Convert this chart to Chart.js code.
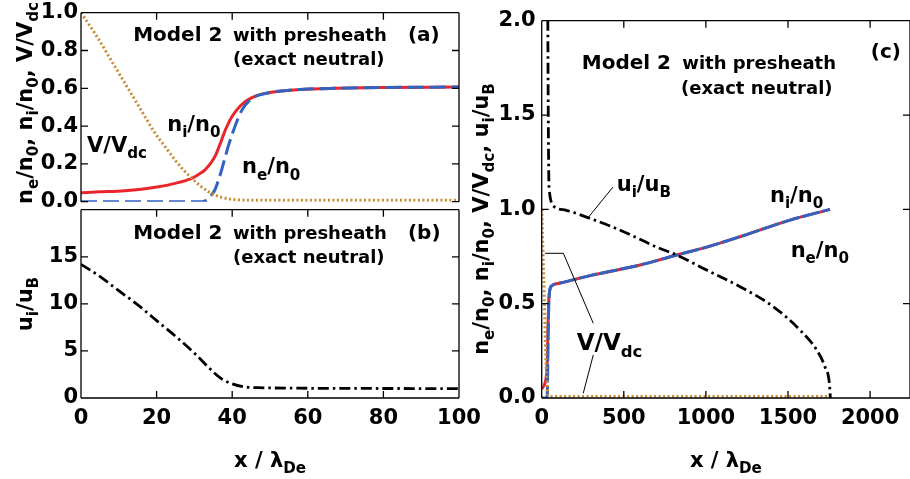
<!DOCTYPE html>
<html>
<head>
<meta charset="utf-8">
<script src="https://cdn.jsdelivr.net/npm/chart.js@4.4.1/dist/chart.umd.min.js"></script>
<style>
  html, body { margin: 0; padding: 0; background: #fff; }
  #wrap { position: relative; width: 910px; height: 479px; }
  #wrap canvas { position: absolute; left: 0; top: 0; }
</style>
</head>
<body>
<div id="wrap">
  <canvas id="panelA" width="910" height="479"></canvas>
  <canvas id="panelB" width="910" height="479"></canvas>
  <canvas id="panelC" width="910" height="479"></canvas>
</div>
<script>
// ---- panel (a) : densities and potential, x in 0..100
const aNiX = [0, 5, 11.6, 16, 20.5, 24.9, 29.3, 31, 32.8, 34, 35, 35.8, 36.5, 37.2, 38, 38.9, 39.8, 40.7, 41.6, 42.9, 44.3, 46, 47.8, 50, 53, 58, 67, 80, 100];
const aNi  = [0.048, 0.052, 0.058, 0.066, 0.079, 0.097, 0.124, 0.143, 0.168, 0.196, 0.225, 0.255, 0.29, 0.326, 0.37, 0.41, 0.445, 0.472, 0.495, 0.52, 0.54, 0.557, 0.569, 0.578, 0.586, 0.594, 0.600, 0.604, 0.607];
const aNeX = [0, 31.9, 33, 33.7, 34.5, 35.4, 36.3, 37.2, 38, 38.9, 39.8, 40.7, 41.6, 42.5, 43.4, 44.3, 46, 47.8, 50, 53, 58, 67, 80, 100];
const aNe  = [0, 0, 0.006, 0.018, 0.035, 0.062, 0.11, 0.168, 0.225, 0.29, 0.345, 0.397, 0.443, 0.482, 0.51, 0.53, 0.555, 0.568, 0.578, 0.586, 0.594, 0.600, 0.604, 0.607];
const aVX  = [0, 3.7, 9, 14.3, 17, 19.6, 22.3, 24.9, 27.1, 29.3, 31.5, 33.7, 35.5, 37.2, 40.7, 45, 60, 100];
const aV   = [1.0, 0.89, 0.714, 0.538, 0.447, 0.362, 0.29, 0.22, 0.168, 0.124, 0.085, 0.053, 0.035, 0.023, 0.011, 0.008, 0.008, 0.008];
const aXTicks = [0, 20, 40, 60, 80, 100];
const aYTicks = [0, 0.2, 0.4, 0.6, 0.8, 1.0];

// ---- panel (b) : ion velocity
const bUX = [0, 4.5, 9.8, 15.1, 20.4, 25.7, 30.1, 34.5, 37.1, 39.8, 43.3, 46.8, 55, 70, 100];
const bU  = [14.2, 13.05, 11.46, 9.86, 8.09, 6.32, 4.72, 2.95, 2.06, 1.53, 1.17, 1.10, 1.05, 1.02, 1.0];
const bXTicks = [0, 20, 40, 60, 80, 100];
const bYTicks = [0, 5, 10, 15, 20];

// ---- panel (c) : whole domain
const cNiX = [0, 20, 30, 35, 38, 42, 48, 60, 100, 300, 599, 822, 1005, 1208, 1512, 1756];
const cNi  = [0.048, 0.079, 0.13, 0.22, 0.37, 0.5, 0.565, 0.594, 0.607, 0.65, 0.705, 0.758, 0.80, 0.855, 0.943, 1.0];
const cNeX = [0, 32, 35, 38, 41, 44, 48, 60, 100, 300, 599, 822, 1005, 1208, 1512, 1756];
const cNe  = [0, 0, 0.05, 0.24, 0.42, 0.52, 0.565, 0.594, 0.607, 0.65, 0.705, 0.758, 0.80, 0.855, 0.943, 1.0];
const cVX  = [0, 5, 10, 15, 20, 25, 30, 35, 40, 60, 1756];
const cV   = [1.0, 0.86, 0.71, 0.56, 0.37, 0.22, 0.12, 0.045, 0.012, 0.008, 0.008];
const cUX  = [0, 9.8, 20.4, 30.1, 34.5, 37.1, 39.8, 43.3, 46.8, 55, 69, 150, 300, 450, 573, 700, 822, 1005, 1208, 1411, 1573, 1675, 1725, 1752, 1758];
const cU   = [14.2, 11.46, 8.09, 4.72, 2.95, 2.06, 1.53, 1.17, 1.10, 1.05, 1.02, 0.995, 0.95, 0.90, 0.852, 0.80, 0.758, 0.678, 0.590, 0.484, 0.360, 0.254, 0.166, 0.078, 0];
const cXTicks = [0, 500, 1000, 1500, 2000];
const cYTicks = [0, 0.5, 1.0, 1.5, 2.0];

const RED = '#e8262b';
const BLUE = '#3263c0';
const ORANGE = '#c98a30';
const FAMILY = '"DejaVu Sans", "Liberation Sans", sans-serif';

const pts = (xs, ys) => xs.map((x, i) => ({ x: x, y: ys[i] }));

// text with subscripts written as a_{b}
function parseRich(str) {
  const parts = [];
  const re = /_\{([^}]*)\}/g;
  let last = 0, m;
  while ((m = re.exec(str))) {
    if (m.index > last) parts.push({ t: str.slice(last, m.index), sub: false });
    parts.push({ t: m[1], sub: true });
    last = re.lastIndex;
  }
  if (last < str.length) parts.push({ t: str.slice(last), sub: false });
  return parts;
}
function drawRich(ctx, str, x, y, size, align) {
  const parts = parseRich(str);
  const subSize = size * 0.72;
  let w = 0;
  parts.forEach(p => {
    ctx.font = 'bold ' + (p.sub ? subSize : size) + 'px ' + FAMILY;
    p.w = ctx.measureText(p.t).width;
    w += p.w;
  });
  let cx = align === 'center' ? x - w / 2 : x;
  ctx.textAlign = 'left';
  ctx.textBaseline = 'alphabetic';
  ctx.fillStyle = '#000';
  parts.forEach(p => {
    ctx.font = 'bold ' + (p.sub ? subSize : size) + 'px ' + FAMILY;
    ctx.fillText(p.t, cx, p.sub ? y + size * 0.3 : y);
    cx += p.w;
  });
}

// frame with inward ticks, labels, leader lines and axis titles
const framePlugin = {
  id: 'frame',
  afterDraw(chart, args, o) {
    const { ctx, chartArea: a } = chart;
    const xs = chart.scales.x, ys = chart.scales.y;
    const sides = o.sides;
    const len = 7;
    ctx.save();
    ctx.strokeStyle = '#000';
    ctx.lineWidth = 1.3;
    ctx.beginPath();
    if (sides.includes('top')) { ctx.moveTo(a.left, a.top); ctx.lineTo(a.right, a.top); }
    if (sides.includes('bottom')) { ctx.moveTo(a.left, a.bottom); ctx.lineTo(a.right, a.bottom); }
    if (sides.includes('left')) { ctx.moveTo(a.left, a.top); ctx.lineTo(a.left, a.bottom); }
    if (sides.includes('right')) { ctx.moveTo(a.right, a.top); ctx.lineTo(a.right, a.bottom); }
    o.xTicks.forEach(v => {
      const px = xs.getPixelForValue(v);
      if (sides.includes('top')) { ctx.moveTo(px, a.top); ctx.lineTo(px, a.top + len); }
      if (sides.includes('bottom')) { ctx.moveTo(px, a.bottom); ctx.lineTo(px, a.bottom - len); }
    });
    o.yTicks.forEach(v => {
      const py = ys.getPixelForValue(v);
      ctx.moveTo(a.left, py); ctx.lineTo(a.left + len, py);
      ctx.moveTo(a.right, py); ctx.lineTo(a.right - len, py);
    });
    ctx.stroke();

    ctx.lineWidth = 1;
    (o.leaders || []).forEach(line => {
      ctx.beginPath();
      line.forEach((p, i) => {
        const px = xs.getPixelForValue(p[0]), py = ys.getPixelForValue(p[1]);
        if (i === 0) ctx.moveTo(px, py); else ctx.lineTo(px, py);
      });
      ctx.stroke();
    });

    (o.labels || []).forEach(l => {
      drawRich(ctx, l.text, xs.getPixelForValue(l.x), ys.getPixelForValue(l.y), l.size, 'left');
    });

    if (o.yTitle) {
      ctx.save();
      ctx.translate(o.yTitle.px, o.yTitle.py);
      ctx.rotate(-Math.PI / 2);
      drawRich(ctx, o.yTitle.text, 0, 0, 21, 'center');
      ctx.restore();
    }
    if (o.xTitle) {
      drawRich(ctx, o.xTitle.text, (a.left + a.right) / 2, o.xTitle.py, 21, 'center');
    }
    ctx.restore();
  }
};

function tickFont() { return { family: FAMILY, size: 21, weight: 'bold' }; }
function fixAxis(size, dim) {
  return s => {
    s[dim] = size;
    s.paddingTop = 0; s.paddingBottom = 0; s.paddingLeft = 0; s.paddingRight = 0;
  };
}
function setTicks(arr) {
  return s => { s.ticks = arr.map(v => ({ value: v })); };
}
function baseOptions(padding) {
  return {
    responsive: false,
    animation: false,
    events: [],
    layout: { padding: padding },
    elements: { point: { radius: 0 }, line: { cubicInterpolationMode: 'monotone', fill: false } },
    plugins: { legend: { display: false }, tooltip: { enabled: false } }
  };
}

const title = ['Model 2', 'with presheath', '(exact neutral)'];
const DOT = [2, 2.5];
const DASH_DOT = [11, 4, 2.5, 4];

// ---- (a)
const optA = baseOptions({ left: 0, top: 12.7, right: 451, bottom: 277.3 });
optA.scales = {
  x: { type: 'linear', min: 0, max: 100, display: false },
  y: {
    type: 'linear', min: 0, max: 1,
    afterFit: fixAxis(81, 'width'), afterBuildTicks: setTicks(aYTicks),
    grid: { display: false, drawTicks: false }, border: { display: false },
    ticks: { font: tickFont(), color: '#000', padding: 3, callback: v => v.toFixed(1) }
  }
};
optA.plugins.frame = {
  sides: ['top', 'left', 'right'], xTicks: aXTicks, yTicks: aYTicks,
  labels: [
    { text: title[0], x: 13.8, y: 0.852, size: 20 },
    { text: title[1], x: 40.2, y: 0.852, size: 18 },
    { text: title[2], x: 40.2, y: 0.723, size: 18 },
    { text: '(a)', x: 86.5, y: 0.852, size: 20 },
    { text: 'n_{i}/n_{0}', x: 22.8, y: 0.374, size: 21 },
    { text: 'V/V_{dc}', x: 1.6, y: 0.265, size: 21 },
    { text: 'n_{e}/n_{0}', x: 42.6, y: 0.15, size: 21 }
  ],
  yTitle: { text: 'n_{e}/n_{0}, n_{i}/n_{0}, V/V_{dc}', px: 32, py: 103 }
};
new Chart(document.getElementById('panelA'), {
  type: 'line',
  data: {
    datasets: [
      { data: pts(aVX, aV), borderColor: ORANGE, borderDash: DOT, borderWidth: 3 },
      { data: pts(aNeX, aNe), borderColor: BLUE, borderDash: [16, 6], borderWidth: 3 },
      { data: pts(aNiX, aNi), borderColor: RED, borderWidth: 3 }
    ]
  },
  options: optA,
  plugins: [framePlugin]
});

// ---- (b)
const optB = baseOptions({ left: 0, top: 209.7, right: 451, bottom: 0 });
optB.scales = {
  x: {
    type: 'linear', min: 0, max: 100,
    afterFit: fixAxis(81, 'height'), afterBuildTicks: setTicks(bXTicks),
    grid: { display: false, drawTicks: false }, border: { display: false },
    ticks: { font: tickFont(), color: '#000', padding: 8, maxRotation: 0, callback: v => String(v) }
  },
  y: {
    type: 'linear', min: 0, max: 20,
    afterFit: fixAxis(81, 'width'), afterBuildTicks: setTicks(bYTicks),
    grid: { display: false, drawTicks: false }, border: { display: false },
    ticks: { font: tickFont(), color: '#000', padding: 3, callback: v => (v === 20 ? '' : String(v)) }
  }
};
optB.plugins.frame = {
  sides: ['top', 'bottom', 'left', 'right'], xTicks: bXTicks, yTicks: bYTicks,
  labels: [
    { text: title[0], x: 13.8, y: 16.85, size: 20 },
    { text: title[1], x: 40.2, y: 16.85, size: 18 },
    { text: title[2], x: 40.2, y: 14.3, size: 18 },
    { text: '(b)', x: 86.5, y: 16.85, size: 20 }
  ],
  yTitle: { text: 'u_{i}/u_{B}', px: 32, py: 304 },
  xTitle: { text: 'x / λ_{De}', py: 467 }
};
new Chart(document.getElementById('panelB'), {
  type: 'line',
  data: {
    datasets: [
      { data: pts(bUX, bU), borderColor: '#000', borderDash: DASH_DOT, borderWidth: 2.8 }
    ]
  },
  options: optB,
  plugins: [framePlugin]
});

// ---- (c)
const optC = baseOptions({ left: 481.7, top: 20.7, right: 0, bottom: 0 });
optC.scales = {
  x: {
    type: 'linear', min: 0, max: 2243,
    afterFit: fixAxis(81, 'height'), afterBuildTicks: setTicks(cXTicks),
    grid: { display: false, drawTicks: false }, border: { display: false },
    ticks: { font: tickFont(), color: '#000', padding: 8, maxRotation: 0, callback: v => String(v) }
  },
  y: {
    type: 'linear', min: 0, max: 2,
    afterFit: fixAxis(60, 'width'), afterBuildTicks: setTicks(cYTicks),
    grid: { display: false, drawTicks: false }, border: { display: false },
    ticks: { font: tickFont(), color: '#000', padding: 6, callback: v => v.toFixed(1) }
  }
};
optC.plugins.frame = {
  sides: ['top', 'bottom', 'left', 'right'], xTicks: cXTicks, yTicks: cYTicks,
  labels: [
    { text: title[0], x: 244, y: 1.743, size: 20 },
    { text: title[1], x: 856, y: 1.743, size: 18 },
    { text: title[2], x: 848, y: 1.611, size: 18 },
    { text: '(c)', x: 2004, y: 1.80, size: 20 },
    { text: 'u_{i}/u_{B}', x: 457, y: 1.099, size: 21 },
    { text: 'n_{i}/n_{0}', x: 1390, y: 1.04, size: 21 },
    { text: 'n_{e}/n_{0}', x: 1516, y: 0.749, size: 21 },
    { text: 'V/V_{dc}', x: 213, y: 0.254, size: 23 }
  ],
  leaders: [
    [[434, 1.118], [276, 0.949]],
    [[20, 0.767], [132, 0.767], [314, 0.396]],
    [[314, 0.228], [253, 0.025]]
  ],
  yTitle: { text: 'n_{e}/n_{0}, n_{i}/n_{0}, V/V_{dc}, u_{i}/u_{B}', px: 488, py: 219 },
  xTitle: { text: 'x / λ_{De}', py: 467 }
};
new Chart(document.getElementById('panelC'), {
  type: 'line',
  data: {
    datasets: [
      { data: pts(cUX, cU), borderColor: '#000', borderDash: DASH_DOT, borderWidth: 2.8 },
      { data: pts(cVX, cV), borderColor: ORANGE, borderDash: DOT, borderWidth: 3 },
      { data: pts(cNeX, cNe), borderColor: BLUE, borderDash: [18, 3], borderWidth: 3 },
      { data: pts(cNiX, cNi), borderColor: RED, borderWidth: 3 }
    ]
  },
  options: optC,
  plugins: [framePlugin]
});
</script>
</body>
</html>
